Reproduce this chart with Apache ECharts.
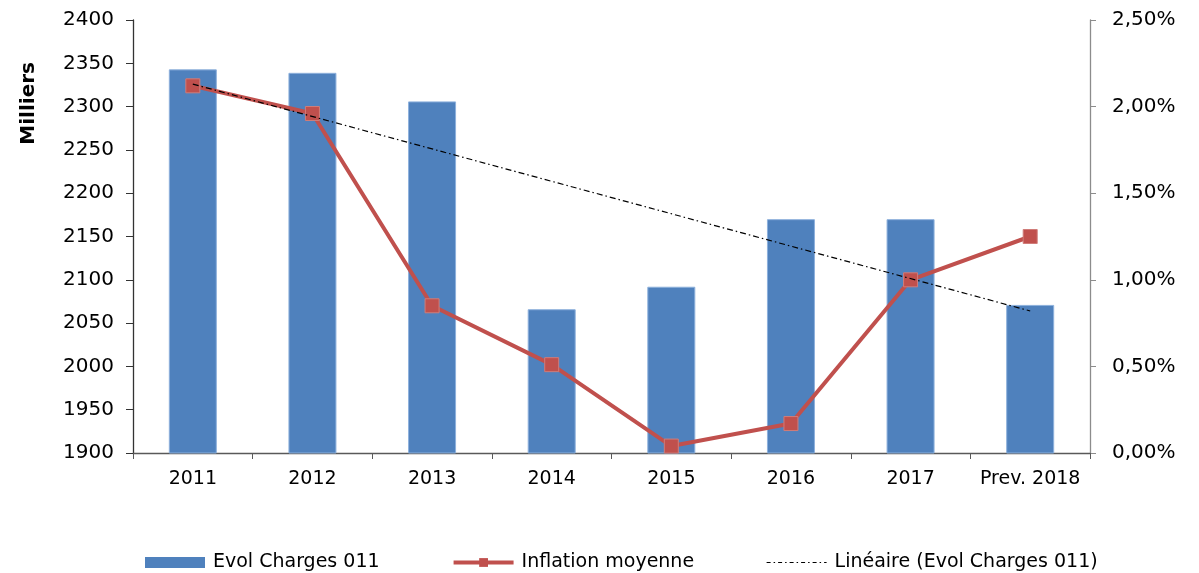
<!DOCTYPE html>
<html>
<head>
<meta charset="utf-8">
<script src="https://cdn.jsdelivr.net/npm/echarts@6/dist/echarts.min.js"></script>
<style>
html,body{margin:0;padding:0;background:#fff;}
#chart{width:1199px;height:573px;}
</style>
</head>
<body>
<div id="chart"></div>
<script>
var categories = ['2011','2012','2013','2014','2015','2016','2017','Prev. 2018'];
var chargesValues = [2343, 2339, 2306, 2066, 2092, 2170, 2170, 2071];
var inflationValues = [2.12, 1.96, 0.85, 0.51, 0.04, 0.17, 1.00, 1.25];
var trendValues = [2326, null, null, null, null, null, null, 2064];
var leftTicks = {min: 1900, max: 2400, interval: 50};
var rightTicks = {min: 0, max: 2.5, interval: 0.5};
var seriesNames = ['Evol Charges 011', 'Inflation moyenne', 'Linéaire (Evol Charges 011)'];
var axisTitle = 'Milliers';

var FONT = 'DejaVu Sans';
var chart = echarts.init(document.getElementById('chart'), null, {renderer: 'canvas'});
chart.setOption({
  animation: false,
  backgroundColor: '#ffffff',
  textStyle: {fontFamily: FONT, color: '#000'},
  grid: {left: 133, right: 109, top: 20, bottom: 120, containLabel: false},
  legend: {
    left: 140, top: 548,
    itemWidth: 60, itemHeight: 11, itemGap: 72,
    textStyle: {fontFamily: FONT, fontSize: 19, color: '#000', padding: [0,0,0,3]},
    data: [
      {name: seriesNames[0], icon: 'rect', itemStyle: {borderWidth: 0, color: '#4F81BD'}},
      {name: seriesNames[1], lineStyle: {width: 4}, itemStyle: {borderWidth: 0}},
      {name: seriesNames[2], itemStyle: {opacity: 0}, lineStyle: {width: 1, type: [4, 3, 1.5, 3]}}
    ]
  },
  graphic: [{
    type: 'text', left: 19, top: 62, rotation: Math.PI/2,
    style: {text: axisTitle, font: 'bold 20px "DejaVu Sans"', fill: '#000'}
  }],
  xAxis: {
    type: 'category', data: categories, boundaryGap: true,
    axisLine: {lineStyle: {color: '#595959', width: 1.3}},
    axisTick: {show: true, length: 6, lineStyle: {color: '#595959'}},
    axisLabel: {fontFamily: FONT, fontSize: 19, color: '#000', margin: 17, interval: 0}
  },
  yAxis: [{
    type: 'value', min: leftTicks.min, max: leftTicks.max, interval: leftTicks.interval,
    axisLine: {show: true, lineStyle: {color: '#333', width: 1.3}},
    axisTick: {show: true, length: 7, lineStyle: {color: '#333'}},
    splitLine: {show: false},
    axisLabel: {fontFamily: FONT, fontSize: 20, color: '#000', margin: 19,
      formatter: function(v){ return String(v); }}
  }, {
    type: 'value', min: rightTicks.min, max: rightTicks.max, interval: rightTicks.interval,
    position: 'right',
    axisLine: {show: true, lineStyle: {color: '#8c8c8c', width: 1.3}},
    axisTick: {show: true, length: 6, lineStyle: {color: '#8c8c8c'}},
    splitLine: {show: false},
    axisLabel: {fontFamily: FONT, fontSize: 20, color: '#000', margin: 22,
      formatter: function(v){ return v.toFixed(2).replace('.', ',') + '%'; }}
  }],
  series: [{
    name: seriesNames[0], type: 'bar', data: chargesValues, barWidth: 48,
    itemStyle: {color: '#4F81BD', borderColor: '#8DB0DC', borderWidth: 1},
    z: 2
  }, {
    name: seriesNames[1], type: 'line', yAxisIndex: 1, data: inflationValues,
    symbol: 'rect', symbolSize: 14,
    lineStyle: {color: '#C0504D', width: 4},
    itemStyle: {color: '#C0504D', borderColor: '#D07C79', borderWidth: 1},
    z: 3
  }, {
    name: seriesNames[2], type: 'line', data: trendValues, connectNulls: true,
    symbol: 'none', showSymbol: false,
    lineStyle: {color: '#000', width: 1.2, type: [6, 3, 1.5, 3]},
    itemStyle: {color: '#000'},
    z: 4
  }]
});
</script>
</body>
</html>
